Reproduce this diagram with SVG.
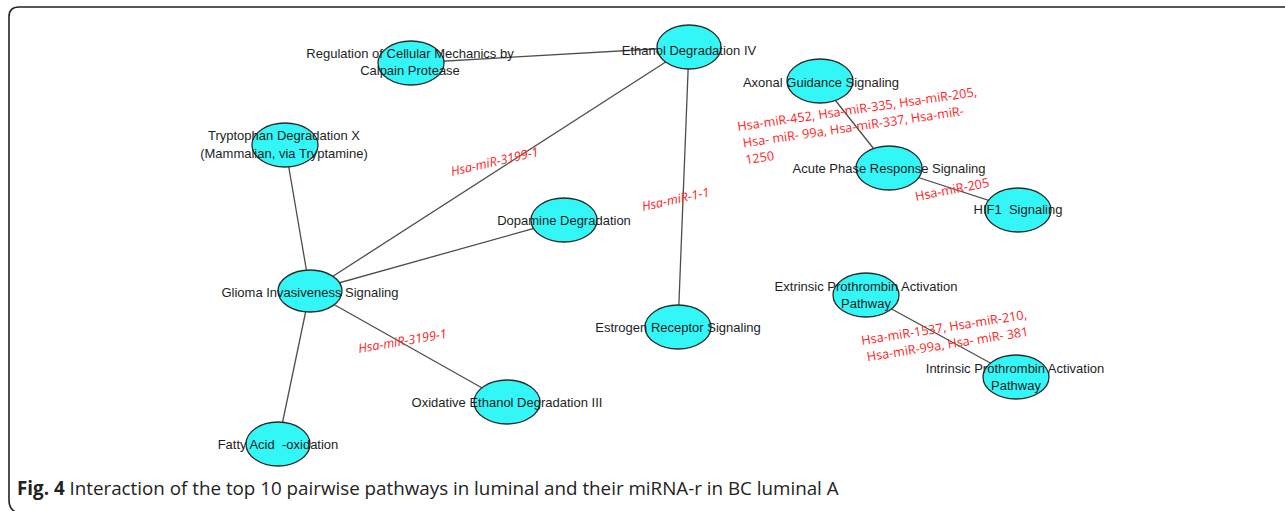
<svg xmlns="http://www.w3.org/2000/svg" width="1285" height="511" viewBox="0 0 1285 511">
<style>
.n{fill:#33f7f7;stroke:#2a2a2a;stroke-width:1.3}
.t{font-family:"Liberation Sans",Arial,sans-serif;font-size:13px;fill:#1e1e1e;text-anchor:middle;white-space:pre}
.e{stroke:#4d4d4d;stroke-width:1.3;fill:none}
.r{font-family:"Open Sans",sans-serif;font-size:12.7px;fill:#ff2424}
.ri{font-style:italic}
.cap{font-family:"Open Sans",sans-serif;font-size:18.8px;fill:#222}
</style>
<rect width="1285" height="511" fill="#fff"/>
<path d="M1285,7 H19 Q9,7 9,17 V500 Q9,511 19,513" fill="none" stroke="#222" stroke-width="1.6"/>
<g id="connectors">
<line class="e" x1="411" y1="63" x2="689" y2="47"/>
<line class="e" x1="689" y1="47" x2="310" y2="291"/>
<line class="e" x1="689" y1="47" x2="678" y2="327"/>
<line class="e" x1="285" y1="145" x2="310" y2="291"/>
<line class="e" x1="310" y1="291" x2="564" y2="220"/>
<line class="e" x1="310" y1="291" x2="507" y2="402"/>
<line class="e" x1="310" y1="291" x2="278" y2="444"/>
<line class="e" x1="820" y1="81" x2="889" y2="168"/>
<line class="e" x1="889" y1="168" x2="1018" y2="210"/>
<line class="e" x1="866" y1="295" x2="1016" y2="377"/>
</g>
<g id="n-regulation"><ellipse class="n" cx="411" cy="63" rx="33" ry="22"/><text class="t" x="410" y="58">Regulation of Cellular Mechanics by</text><text class="t" x="410" y="75">Calpain Protease</text></g>
<g id="n-ethanol4"><ellipse class="n" cx="689" cy="47" rx="32" ry="22"/><text class="t" x="689" y="55">Ethanol Degradation IV</text></g>
<g id="n-tryptophan"><ellipse class="n" cx="285" cy="145" rx="33" ry="22"/><text class="t" x="284" y="140">Tryptophan Degradation X</text><text class="t" x="284" y="158">(Mammalian, via Tryptamine)</text></g>
<g id="n-glioma"><ellipse class="n" cx="310" cy="291" rx="32" ry="21"/><text class="t" x="310" y="297">Glioma Invasiveness Signaling</text></g>
<g id="n-dopamine"><ellipse class="n" cx="564" cy="220" rx="33" ry="22"/><text class="t" x="564" y="225">Dopamine Degradation</text></g>
<g id="n-estrogen"><ellipse class="n" cx="678" cy="327" rx="33" ry="22"/><text class="t" x="678" y="332">Estrogen Receptor Signaling</text></g>
<g id="n-oxidative"><ellipse class="n" cx="507" cy="402" rx="33" ry="22"/><text class="t" x="507" y="407">Oxidative Ethanol Degradation III</text></g>
<g id="n-fatty"><ellipse class="n" cx="278" cy="444" rx="32" ry="22"/><text class="t" x="278" y="449">Fatty Acid  -oxidation</text></g>
<g id="n-axonal"><ellipse class="n" cx="820" cy="81" rx="33" ry="22"/><text class="t" x="821" y="87">Axonal Guidance Signaling</text></g>
<g id="n-acute"><ellipse class="n" cx="889" cy="168" rx="33" ry="22"/><text class="t" x="889" y="173">Acute Phase Response Signaling</text></g>
<g id="n-hif1"><ellipse class="n" cx="1018" cy="210" rx="33" ry="22"/><text class="t" x="1018" y="214">HIF1  Signaling</text></g>
<g id="n-extrinsic"><ellipse class="n" cx="866" cy="295" rx="33" ry="22"/><text class="t" x="866" y="291">Extrinsic Prothrombin Activation</text><text class="t" x="866" y="308">Pathway</text></g>
<g id="n-intrinsic"><ellipse class="n" cx="1016" cy="377" rx="33" ry="22"/><text class="t" x="1015" y="373">Intrinsic Prothrombin Activation</text><text class="t" x="1016" y="390">Pathway</text></g>
<g id="edge-labels">
<text class="r ri" transform="translate(452,176) rotate(-13)">Hsa-miR-3199-1</text>
<text class="r ri" transform="translate(359,353) rotate(-9.7)">Hsa-miR-3199-1</text>
<text class="r ri" transform="translate(643,211) rotate(-12.5)">Hsa-miR-1-1</text>
<text class="r" transform="translate(738,131) rotate(-8.3)"><tspan x="0" y="0">Hsa-miR-452, Hsa-miR-335, Hsa-miR-205,</tspan><tspan x="3" y="17">Hsa- miR- 99a, Hsa-miR-337, Hsa-miR-</tspan><tspan x="3" y="34">1250</tspan></text>
<text class="r" transform="translate(916,201) rotate(-11)">Hsa-miR-205</text>
<text class="r" transform="translate(862,345) rotate(-9)"><tspan x="0" y="0">Hsa-miR-1537, Hsa-miR-210,</tspan><tspan x="3" y="17">Hsa-miR-99a, Hsa- miR- 381</tspan></text>
</g>
<text class="cap" x="17" y="495"><tspan font-weight="bold">Fig. 4</tspan> Interaction of the top 10 pairwise pathways in luminal and their miRNA-r in BC luminal A</text>
</svg>
